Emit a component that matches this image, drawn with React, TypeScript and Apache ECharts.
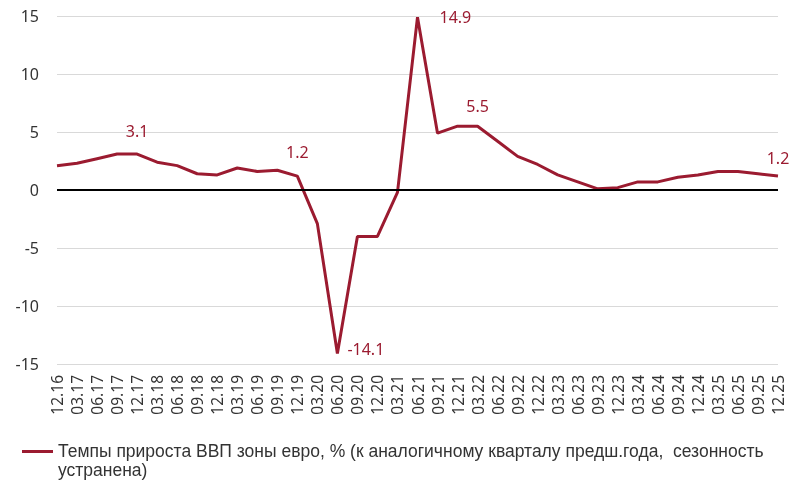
import React, { useEffect, useRef } from "react";
import * as echarts from "echarts";

const categories = [
  "12.16", "03.17", "06.17", "09.17", "12.17", "03.18", "06.18", "09.18", "12.18",
  "03.19", "06.19", "09.19", "12.19", "03.20", "06.20", "09.20", "12.20",
  "03.21", "06.21", "09.21", "12.21", "03.22", "06.22", "09.22", "12.22",
  "03.23", "06.23", "09.23", "12.23", "03.24", "06.24", "09.24", "12.24",
  "03.25", "06.25", "09.25", "12.25",
];

const gdpGrowth = [
  2.1, 2.3, 2.7, 3.1, 3.1, 2.4, 2.1, 1.4, 1.3,
  1.9, 1.6, 1.7, 1.2, -2.9, -14.1, -4.0, -4.0,
  -0.2, 14.9, 4.9, 5.5, 5.5, 4.2, 2.9, 2.2,
  1.3, 0.7, 0.1, 0.2, 0.7, 0.7, 1.1, 1.3,
  1.6, 1.6, 1.4, 1.2,
];

// index -> label placement
const labelled: Record<number, { position: string; distance: number; offset?: number[] }> = {
  4: { position: "top", distance: 15 },
  12: { position: "top", distance: 16 },
  14: { position: "right", distance: 10, offset: [0, -5] },
  18: { position: "right", distance: 22 },
  21: { position: "top", distance: 12 },
  36: { position: "top", distance: 10 },
};

const legendLines = [
  "Темпы прироста ВВП зоны евро, % (к аналогичному кварталу предш.года,  сезонность",
  "устранена)",
];

const yTicks = { min: -15, max: 15, interval: 5 };

const COLOR = "#9B1B30";
const FONT = "'Noto Sans', 'Open Sans', sans-serif";
const LEGEND_FONT = "'Liberation Sans', Arial, sans-serif";

export default function App() {
  const ref = useRef<HTMLDivElement>(null);
  useEffect(() => {
    if (!ref.current) return;
    const chart = echarts.init(ref.current, undefined, { renderer: "svg" });
    const data = gdpGrowth.map((v, i) => {
      const l = labelled[i];
      if (!l) return v;
      return {
        value: v,
        label: {
          show: true,
          position: l.position,
          distance: l.distance,
          offset: l.offset || [0, 0],
          formatter: (p: any) => Number(p.value).toFixed(1),
          color: COLOR,
          fontSize: 16,
          fontFamily: FONT,
        },
      };
    });
    chart.setOption({
      animation: false,
      textStyle: { fontFamily: FONT },
      grid: { left: 57, right: 13, top: 16, bottom: 116 },
      graphic: [
        {
          type: "line",
          shape: { x1: 22, y1: 451.5, x2: 53, y2: 451.5 },
          style: { stroke: COLOR, lineWidth: 3 },
          silent: true,
        },
        {
          type: "text",
          x: 58,
          y: 441,
          silent: true,
          style: {
            text: legendLines.join("\n"),
            fontSize: 17.5,
            fontFamily: LEGEND_FONT,
            fill: "#333",
            lineHeight: 19.5,
            verticalAlign: "top",
            align: "left",
          },
        },
      ],
      xAxis: {
        type: "category",
        data: categories,
        boundaryGap: false,
        axisLine: { show: false },
        axisTick: { show: false },
        axisLabel: {
          rotate: 90,
          interval: 0,
          margin: 11,
          fontSize: 15.5,
          color: "#333",
          fontFamily: FONT,
        },
      },
      yAxis: {
        type: "value",
        min: yTicks.min,
        max: yTicks.max,
        interval: yTicks.interval,
        axisLine: { show: false },
        axisTick: { show: false },
        splitLine: { lineStyle: { color: "#d9d9d9", width: 1 } },
        axisLabel: { fontSize: 16, color: "#333", margin: 18, fontFamily: FONT },
      },
      series: [
        {
          name: "Темпы прироста ВВП зоны евро",
          type: "line",
          data,
          symbol: "circle",
          symbolSize: 0,
          showSymbol: true,
          lineStyle: { color: COLOR, width: 3 },
          itemStyle: { color: COLOR },
          markLine: {
            silent: true,
            symbol: "none",
            label: { show: false },
            lineStyle: { color: "#000", width: 2, type: "solid" },
            data: [{ yAxis: 0 }],
          },
          z: 3,
        },
      ],
    });
    return () => chart.dispose();
  }, []);
  return (
    <div
      ref={ref}
      style={{ position: "fixed", left: 0, top: 0, width: 791, height: 480 }}
    />
  );
}
